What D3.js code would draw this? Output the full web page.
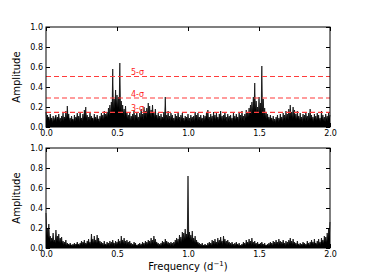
<!DOCTYPE html>
<html><head><meta charset="utf-8">
<script src="https://cdn.jsdelivr.net/npm/d3@7"></script>
<style>body{margin:0;background:#fff}svg{display:block}</style>
</head><body>
<script>
const freqStep = 0.005;
const topAmp = [
0.15,0.06,0.12,0.08,0.10,0.05,0.13,0.07,0.09,0.04,0.11,0.06,0.08,0.10,0.12,0.05,0.10,0.07,0.13,0.06,
0.09,0.05,0.11,0.07,0.14,0.06,0.10,0.08,0.16,0.07,0.21,0.09,0.13,0.06,0.09,0.05,0.11,0.07,0.08,0.05,
0.12,0.06,0.10,0.08,0.14,0.07,0.11,0.05,0.15,0.08,0.09,0.06,0.13,0.07,0.17,0.09,0.20,0.08,0.12,0.06,
0.10,0.07,0.14,0.06,0.11,0.08,0.09,0.05,0.13,0.07,0.10,0.06,0.12,0.08,0.08,0.05,0.11,0.07,0.14,0.08,
0.12,0.07,0.16,0.09,0.13,0.10,0.15,0.09,0.19,0.11,0.22,0.12,0.25,0.14,0.58,0.16,0.28,0.18,0.37,0.20,
0.32,0.19,0.30,0.17,0.64,0.16,0.26,0.14,0.22,0.12,0.18,0.10,0.21,0.09,0.15,0.08,0.12,0.07,0.14,0.06,
0.11,0.07,0.13,0.08,0.17,0.06,0.12,0.09,0.15,0.07,0.10,0.06,0.14,0.08,0.18,0.09,0.13,0.07,0.20,0.10,
0.16,0.09,0.19,0.11,0.24,0.12,0.21,0.10,0.17,0.09,0.22,0.11,0.15,0.08,0.18,0.09,0.12,0.07,0.14,0.08,
0.11,0.06,0.13,0.07,0.10,0.08,0.15,0.07,0.30,0.06,0.12,0.08,0.16,0.07,0.11,0.06,0.14,0.08,0.12,0.06,
0.09,0.05,0.13,0.07,0.11,0.06,0.15,0.08,0.10,0.05,0.12,0.07,0.14,0.06,0.09,0.05,0.11,0.07,0.10,0.06,
0.13,0.06,0.09,0.05,0.12,0.07,0.10,0.06,0.11,0.05,0.15,0.08,0.12,0.06,0.14,0.07,0.10,0.06,0.12,0.07,
0.09,0.05,0.12,0.06,0.11,0.07,0.14,0.08,0.17,0.07,0.10,0.06,0.13,0.07,0.11,0.05,0.15,0.08,0.12,0.06,
0.14,0.07,0.10,0.06,0.13,0.08,0.16,0.07,0.11,0.06,0.12,0.07,0.15,0.08,0.10,0.05,0.13,0.07,0.11,0.06,
0.12,0.06,0.09,0.05,0.14,0.07,0.11,0.06,0.13,0.08,0.10,0.05,0.15,0.07,0.12,0.06,0.16,0.08,0.11,0.06,
0.13,0.08,0.17,0.09,0.15,0.10,0.19,0.11,0.22,0.12,0.25,0.14,0.30,0.15,0.44,0.16,0.26,0.15,0.20,0.13,
0.30,0.14,0.24,0.13,0.61,0.12,0.28,0.10,0.19,0.09,0.15,0.08,0.13,0.07,0.10,0.06,0.12,0.07,0.09,0.05,
0.11,0.05,0.08,0.04,0.10,0.06,0.12,0.05,0.09,0.06,0.13,0.07,0.10,0.05,0.14,0.07,0.12,0.06,0.16,0.08,
0.13,0.07,0.18,0.09,0.22,0.10,0.15,0.08,0.20,0.09,0.17,0.08,0.13,0.07,0.16,0.08,0.11,0.06,0.14,0.07,
0.10,0.05,0.13,0.07,0.12,0.06,0.15,0.08,0.11,0.06,0.14,0.07,0.18,0.08,0.12,0.06,0.10,0.05,0.13,0.07,
0.11,0.06,0.14,0.07,0.12,0.06,0.09,0.05,0.16,0.07,0.12,0.06,0.10,0.05,0.13,0.07,0.11,0.06,0.14,0.08,
0.12];
const bottomAmp = [
0.35,0.12,0.20,0.10,0.24,0.09,0.12,0.06,0.10,0.07,0.15,0.06,0.08,0.05,0.18,0.07,0.12,0.06,0.14,0.05,
0.10,0.05,0.11,0.04,0.07,0.03,0.06,0.03,0.08,0.02,0.05,0.03,0.04,0.02,0.05,0.03,0.03,0.02,0.04,0.02,
0.05,0.02,0.04,0.03,0.06,0.03,0.04,0.02,0.05,0.03,0.07,0.03,0.06,0.04,0.08,0.03,0.05,0.03,0.07,0.04,
0.09,0.04,0.06,0.03,0.14,0.05,0.09,0.04,0.12,0.05,0.08,0.04,0.13,0.05,0.10,0.04,0.07,0.03,0.06,0.03,
0.05,0.02,0.07,0.03,0.04,0.02,0.06,0.03,0.05,0.02,0.07,0.03,0.06,0.03,0.08,0.04,0.05,0.02,0.07,0.03,
0.06,0.03,0.09,0.04,0.07,0.03,0.12,0.05,0.08,0.04,0.10,0.04,0.07,0.03,0.08,0.04,0.06,0.03,0.07,0.03,
0.05,0.02,0.04,0.02,0.06,0.03,0.05,0.02,0.03,0.02,0.04,0.02,0.05,0.02,0.04,0.02,0.06,0.03,0.05,0.02,
0.07,0.03,0.06,0.03,0.08,0.04,0.07,0.03,0.10,0.04,0.08,0.04,0.12,0.05,0.09,0.04,0.06,0.03,0.05,0.02,
0.04,0.02,0.05,0.02,0.07,0.03,0.06,0.03,0.09,0.04,0.07,0.03,0.06,0.03,0.05,0.02,0.06,0.03,0.05,0.02,
0.06,0.03,0.08,0.04,0.10,0.05,0.09,0.04,0.13,0.06,0.11,0.05,0.16,0.07,0.15,0.08,0.19,0.09,0.14,0.10,
0.72,0.12,0.16,0.08,0.13,0.07,0.17,0.06,0.10,0.05,0.12,0.05,0.08,0.04,0.06,0.03,0.05,0.02,0.04,0.02,
0.05,0.02,0.03,0.02,0.04,0.02,0.03,0.02,0.05,0.02,0.06,0.03,0.05,0.02,0.08,0.03,0.07,0.03,0.09,0.04,
0.06,0.03,0.10,0.04,0.08,0.04,0.11,0.05,0.07,0.03,0.12,0.05,0.09,0.04,0.07,0.03,0.08,0.04,0.06,0.03,
0.05,0.02,0.06,0.03,0.04,0.02,0.05,0.02,0.06,0.03,0.04,0.02,0.05,0.02,0.03,0.02,0.04,0.02,0.06,0.03,
0.05,0.02,0.08,0.04,0.06,0.03,0.09,0.04,0.07,0.03,0.10,0.04,0.06,0.03,0.07,0.03,0.05,0.02,0.06,0.03,
0.04,0.02,0.05,0.02,0.06,0.03,0.04,0.02,0.05,0.02,0.03,0.02,0.04,0.02,0.05,0.02,0.06,0.03,0.05,0.02,
0.07,0.03,0.06,0.03,0.08,0.04,0.06,0.03,0.09,0.04,0.07,0.03,0.06,0.03,0.08,0.04,0.05,0.02,0.07,0.03,
0.06,0.03,0.08,0.04,0.10,0.04,0.07,0.03,0.09,0.04,0.06,0.03,0.05,0.02,0.07,0.03,0.04,0.02,0.05,0.02,
0.04,0.02,0.06,0.03,0.05,0.02,0.04,0.02,0.07,0.03,0.05,0.02,0.06,0.03,0.08,0.04,0.06,0.03,0.09,0.04,
0.05,0.03,0.07,0.03,0.09,0.04,0.06,0.03,0.10,0.05,0.08,0.04,0.12,0.06,0.11,0.05,0.15,0.07,0.19,0.10,
0.26];
const thresholds = [0.147, 0.29, 0.505];
const thresholdLabels = ["3-σ","4-σ","5-σ"];
const xTicks = [0.0, 0.5, 1.0, 1.5, 2.0];
const yTicks = [0.0, 0.2, 0.4, 0.6, 0.8, 1.0];

const W = 368, H = 276;
const svg = d3.select("body").append("svg").attr("width", W).attr("height", H);
const left = 46, right = 330;
const x = d3.scaleLinear().domain([0, 2]).range([left, right]);

function panel(top, bottom, amps, withThresh) {
  const y = d3.scaleLinear().domain([0, 1]).range([bottom, top]);
  const g = svg.append("g");
  const pts = amps.map((a, i) => [i * freqStep, a]);
  const area = d3.area().x(d => x(d[0])).y0(y(0)).y1(d => y(d[1]));
  g.append("path").attr("d", area(pts)).attr("fill", "#000");
  g.append("path").attr("d", d3.line().x(d => x(d[0])).y(d => y(d[1]))(pts))
    .attr("fill", "none").attr("stroke", "#000").attr("stroke-width", 0.7);
  if (withThresh) {
    thresholds.forEach((t, i) => {
      g.append("line").attr("x1", left).attr("x2", right).attr("y1", y(t)).attr("y2", y(t))
        .attr("stroke", "#ff3b3b").attr("stroke-width", 1.2).attr("stroke-dasharray", "5,3");
      g.append("text").attr("x", 131).attr("y", y(t) - 1.5).attr("fill", "#ff1a1a")
        .attr("font-family", "DejaVu Sans").attr("font-size", 8).text(thresholdLabels[i]);
    });
  }
  g.append("rect").attr("x", left).attr("y", top).attr("width", right - left).attr("height", bottom - top)
    .attr("fill", "none").attr("stroke", "#000").attr("stroke-width", 1);
  const ax = g.append("g").attr("transform", `translate(0,${bottom})`)
    .call(d3.axisBottom(x).tickValues(xTicks).tickFormat(d3.format(".1f")).tickSizeInner(-4).tickSizeOuter(0).tickPadding(3));
  const axT = g.append("g").attr("transform", `translate(0,${top})`)
    .call(d3.axisTop(x).tickValues(xTicks).tickFormat("").tickSizeInner(-4).tickSizeOuter(0));
  const ay = g.append("g").attr("transform", `translate(${left},0)`)
    .call(d3.axisLeft(y).tickValues(yTicks).tickFormat(d3.format(".1f")).tickSizeInner(-4).tickSizeOuter(0).tickPadding(3));
  const ayR = g.append("g").attr("transform", `translate(${right},0)`)
    .call(d3.axisRight(y).tickValues(yTicks).tickFormat("").tickSizeInner(-4).tickSizeOuter(0));
  [ax, axT, ay, ayR].forEach(a => {
    a.select(".domain").remove();
    a.selectAll("text").attr("font-family", "DejaVu Sans").attr("font-size", 8).attr("fill", "#000");
    a.selectAll("line").attr("stroke", "#000");
  });
  g.append("text").attr("transform", `translate(20,${(top + bottom) / 2}) rotate(-90)`)
    .attr("text-anchor", "middle").attr("font-family", "DejaVu Sans").attr("font-size", 10).text("Amplitude");
}
panel(27, 127, topAmp, true);
panel(148, 248, bottomAmp, false);

const xl = svg.append("text").attr("x", 188).attr("y", 270).attr("text-anchor", "middle")
  .attr("font-family", "DejaVu Sans").attr("font-size", 10);
xl.append("tspan").text("Frequency (d");
xl.append("tspan").attr("font-size", 7).attr("dy", -4).text("−1");
xl.append("tspan").attr("dy", 4).text(")");
</script>
</body></html>
